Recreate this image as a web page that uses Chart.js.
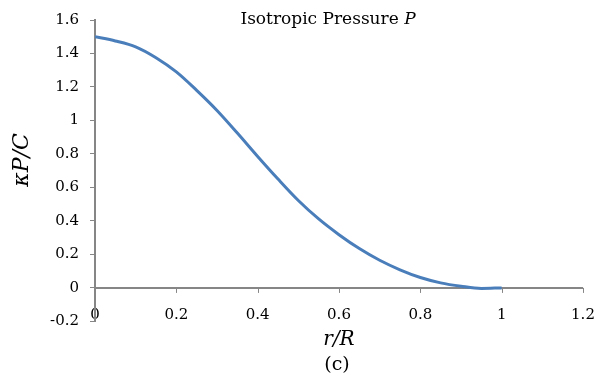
<!DOCTYPE html>
<html>
<head>
<meta charset="utf-8">
<script src="https://cdn.jsdelivr.net/npm/chart.js@4.4.1/dist/chart.umd.min.js"></script>
<style>
    html, body { margin: 0; padding: 0; background: #fff; }
    #wrap { width: 610px; height: 386px; }
</style>
</head>
<body>
<div id="wrap"><canvas id="pressureChart"></canvas></div>
<script>
// r/R sample points and kappa*P/C values
const radius = [0, 0.05, 0.1, 0.15, 0.2, 0.25, 0.3, 0.35, 0.4, 0.45, 0.5,
    0.55, 0.6, 0.65, 0.7, 0.75, 0.8, 0.85, 0.9, 0.95, 1];
const pressure = [1.5, 1.475, 1.44, 1.375, 1.29, 1.18, 1.06, 0.925, 0.785, 0.65, 0.522,
    0.412, 0.318, 0.235, 0.165, 0.108, 0.062, 0.03, 0.01, -0.003, 0];

const xTickValues = [0, 0.2, 0.4, 0.6, 0.8, 1, 1.2];
const xTickLabels = ['0', '0.2', '0.4', '0.6', '0.8', '1', '1.2'];
const yTickValues = [-0.2, 0, 0.2, 0.4, 0.6, 0.8, 1, 1.2, 1.4, 1.6];
const yTickLabels = ['-0.2', '0', '0.2', '0.4', '0.6', '0.8', '1', '1.2', '1.4', '1.6'];

const FONT = 'DejaVu Serif';
const AXIS_GREY = '#868686';

// Excel-style horizontal axis crossing at y = 0, with its tick marks
const zeroAxis = {
    id: 'zeroAxis',
    beforeDatasetsDraw(chart) {
        const { ctx, chartArea, scales: { x, y } } = chart;
        const y0 = y.getPixelForValue(0);
        ctx.save();
        ctx.strokeStyle = AXIS_GREY;
        ctx.lineWidth = 2;
        ctx.beginPath();
        ctx.moveTo(chartArea.left, y0);
        ctx.lineTo(chartArea.right, y0);
        ctx.stroke();
        ctx.lineWidth = 1;
        xTickValues.slice(1).forEach(v => {
            const px = Math.round(x.getPixelForValue(v)) + 0.5;
            ctx.beginPath();
            ctx.moveTo(px, y0);
            ctx.lineTo(px, y0 + 5);
            ctx.stroke();
        });
        ctx.restore();
    }
};

// Title inside the plot (italic P), the y-axis title and the panel tag
const annotations = {
    id: 'annotations',
    afterDraw(chart) {
        const { ctx } = chart;
        const plain = 'Isotropic Pressure ';
        const sym = 'P';
        ctx.save();
        ctx.fillStyle = '#000';
        ctx.textBaseline = 'middle';
        ctx.font = '17px "' + FONT + '"';
        const w1 = ctx.measureText(plain).width;
        ctx.font = 'italic 17px "' + FONT + '"';
        const w2 = ctx.measureText(sym).width;
        const start = 328 - (w1 + w2) / 2;
        ctx.font = '17px "' + FONT + '"';
        ctx.fillText(plain, start, 20);
        ctx.font = 'italic 17px "' + FONT + '"';
        ctx.fillText(sym, start + w1, 20);

        ctx.textAlign = 'center';
        ctx.font = '19px "' + FONT + '"';
        ctx.fillText('(c)', 337, 365);

        ctx.translate(22, 160);
        ctx.rotate(-Math.PI / 2);
        ctx.font = 'italic 22px "' + FONT + '"';
        ctx.fillText('κP/C', 0, 0);
        ctx.restore();
    }
};

new Chart(document.getElementById('pressureChart'), {
    type: 'line',
    data: {
        labels: radius,
        datasets: [{
            data: radius.map((r, i) => ({ x: r, y: pressure[i] })),
            borderColor: '#4a7ebb',
            borderWidth: 3,
            pointRadius: 0,
            cubicInterpolationMode: 'monotone',
            fill: false
        }]
    },
    options: {
        responsive: true,
        maintainAspectRatio: false,
        animation: false,
        layout: {
            padding: { top: 12, right: 27, bottom: 31.4, left: 0 }
        },
        plugins: {
            legend: { display: false },
            tooltip: { enabled: false },
            title: { display: false }
        },
        scales: {
            x: {
                type: 'linear',
                min: 0,
                max: 1.2,
                afterBuildTicks: scale => {
                    scale.ticks = xTickValues.map(v => ({ value: v }));
                },
                afterFit: scale => { scale.height = 33.2; },
                grid: { display: false, drawTicks: false, tickLength: 0 },
                border: { display: false },
                ticks: {
                    mirror: true,
                    padding: -3,
                    maxRotation: 0,
                    color: '#000',
                    font: { family: FONT, size: 15 },
                    callback: (v, i) => xTickLabels[i]
                },
                title: {
                    display: true,
                    text: 'r/R',
                    color: '#000',
                    font: { family: FONT, size: 20, style: 'italic' },
                    padding: { top: 0, bottom: 3 }
                }
            },
            y: {
                min: -0.2,
                max: 1.6,
                afterBuildTicks: scale => {
                    scale.ticks = yTickValues.map(v => ({ value: v }));
                },
                afterFit: scale => { scale.width = 95; },
                grid: {
                    display: true,
                    drawOnChartArea: false,
                    drawTicks: true,
                    tickLength: 5,
                    color: AXIS_GREY,
                    lineWidth: 1
                },
                border: { display: true, color: AXIS_GREY, width: 2 },
                ticks: {
                    padding: 11,
                    color: '#000',
                    font: { family: FONT, size: 15 },
                    callback: (v, i) => yTickLabels[i]
                },
                title: { display: false }
            }
        }
    },
    plugins: [zeroAxis, annotations]
});
</script>
</body>
</html>
